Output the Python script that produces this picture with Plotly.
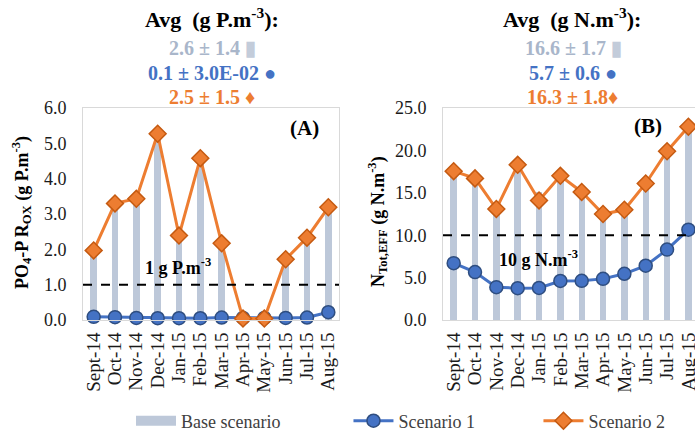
import plotly.graph_objects as go

# Monthly values, Sept 2014 - Aug 2015
months = ["Sept-14", "Oct-14", "Nov-14", "Dec-14", "Jan-15", "Feb-15",
          "Mar-15", "Apr-15", "May-15", "Jun-15", "Jul-15", "Aug-15"]

# Panel A: PO4-P R_OX (g P.m-3)
p_base = [2.05, 3.35, 3.48, 5.3, 2.45, 4.62, 2.22, 0.05, 0.05, 1.78, 2.38, 3.25]
p_s1 = [0.09, 0.08, 0.06, 0.05, 0.05, 0.05, 0.07, 0.06, 0.06, 0.06, 0.07, 0.22]
p_s2 = [1.97, 3.30, 3.43, 5.27, 2.39, 4.58, 2.17, 0.04, 0.04, 1.72, 2.33, 3.19]

# Panel B: N_Tot,EFF (g N.m-3)
n_base = [17.6, 16.8, 13.5, 18.3, 15.1, 17.1, 15.4, 12.9, 13.4, 16.2, 19.9, 22.9]
n_s1 = [6.7, 5.65, 3.87, 3.75, 3.78, 4.6, 4.62, 4.85, 5.45, 6.4, 8.3, 10.65]
n_s2 = [17.55, 16.7, 13.1, 18.3, 14.1, 17.0, 15.1, 12.5, 13.0, 16.1, 19.9, 22.8]

p_limit = 1.0
n_limit = 10.0

W, H = 695, 434
FONT = "Liberation Serif"
BAR = "#BDC8D9"
BLUE = "#4472C4"
BLUE_EDGE = "#2F4E80"
ORANGE = "#ED7D31"
ORANGE_EDGE = "#C55A11"
GREY_TXT = "#A9B6CA"
NBSP = "\u00a0"


def px_x(v):
    return v / W


def px_y(v):
    return 1 - v / H


fig = go.Figure()

panels = [
    ("x", "y", p_base, p_s1, p_s2),
    ("x2", "y2", n_base, n_s1, n_s2),
]
for i, (xa, ya, base, s1, s2) in enumerate(panels):
    fig.add_trace(go.Bar(x=months, y=base, xaxis=xa, yaxis=ya, width=0.3,
                         marker=dict(color=BAR, line=dict(width=0)),
                         showlegend=False, cliponaxis=False))
    fig.add_trace(go.Scatter(x=months, y=s1, xaxis=xa, yaxis=ya, mode="lines+markers",
                             line=dict(color=BLUE, width=3),
                             marker=dict(symbol="circle", size=13, color=BLUE,
                                         line=dict(color=BLUE_EDGE, width=1.5)),
                             name="Scenario 1" + NBSP * 13, showlegend=(i == 0),
                             cliponaxis=False, legendrank=2))
    fig.add_trace(go.Scatter(x=months, y=s2, xaxis=xa, yaxis=ya, mode="lines+markers",
                             line=dict(color=ORANGE, width=3),
                             marker=dict(symbol="diamond", size=13, color=ORANGE,
                                         line=dict(color=ORANGE_EDGE, width=1.5)),
                             name="Scenario 2", showlegend=(i == 0),
                             cliponaxis=False, legendrank=3))

# legend entry for the bars, drawn as a wide grey swatch
fig.add_trace(go.Scatter(x=[None], y=[None], mode="lines", name="Base scenario" + NBSP * 14,
                         line=dict(color=BAR, width=10), legendrank=1))

ydom = [px_y(320), px_y(108)]
axis_common = dict(showline=True, mirror=True, linecolor="#D9D9D9", linewidth=1,
                   showgrid=False, zeroline=False, ticks="")
xaxis_common = dict(axis_common, tickmode="linear", dtick=1, tick0=0, tickangle=-90,
                    ticklabelstandoff=4,
                    tickfont=dict(family=FONT, size=19, color="#1a1a1a"))
yaxis_common = dict(axis_common, tickformat=".1f", ticklabelstandoff=12,
                    tickfont=dict(family=FONT, size=18, color="#1a1a1a"))

fig.update_layout(
    width=W, height=H,
    margin=dict(l=0, r=0, t=0, b=0, autoexpand=False),
    paper_bgcolor="white", plot_bgcolor="white",
    bargap=0,
    xaxis=dict(domain=[px_x(83), px_x(339)], anchor="y", range=[-0.5, 11.5], **xaxis_common),
    yaxis=dict(domain=ydom, anchor="x", range=[0, 6], dtick=1, **yaxis_common),
    xaxis2=dict(domain=[px_x(443), 1.0], anchor="y2", range=[-0.5, 11.31], **xaxis_common),
    yaxis2=dict(domain=ydom, anchor="x2", range=[0, 25], dtick=5, **yaxis_common),
    legend=dict(orientation="h", x=px_x(131), xanchor="left", y=px_y(421),
                yanchor="middle", font=dict(family=FONT, size=18, color="#404040"),
                itemwidth=40, traceorder="normal", bgcolor="rgba(0,0,0,0)"),
    font=dict(family=FONT),
)

# threshold lines
fig.add_shape(type="line", xref="x domain", yref="y", x0=0, x1=1, y0=p_limit, y1=p_limit,
              line=dict(color="black", width=2, dash="dash"))
fig.add_shape(type="line", xref="x2 domain", yref="y2", x0=0, x1=1, y0=n_limit, y1=n_limit,
              line=dict(color="black", width=2, dash="dash"))

ann = []


def text(x, y, s, size, color="black", bold=True):
    ann.append(dict(x=px_x(x), y=px_y(y), xref="paper", yref="paper",
                    text=f"<b>{s}</b>" if bold else s,
                    showarrow=False, xanchor="center", yanchor="middle",
                    font=dict(family=FONT, size=size, color=color)))


# header blocks
text(212, 18, "Avg  (g P.m<sup>-3</sup>):", 22)
text(212, 48, "2.6 ± 1.4 <span style='color:#C3CCDA'>▮</span>", 20, GREY_TXT)
text(212, 73, "0.1 ± 3.0E-02 ●", 20, BLUE)
text(212, 97, "2.5 ± 1.5 ♦", 20, ORANGE)

text(572, 18, "Avg  (g N.m<sup>-3</sup>):", 22)
text(573, 48, "16.6 ± 1.7 <span style='color:#C3CCDA'>▮</span>", 20, GREY_TXT)
text(573, 73, "5.7 ± 0.6 ●", 20, BLUE)
text(572, 97, "16.3 ± 1.8♦", 20, ORANGE)

# panel tags and threshold labels
text(304, 128, "(A)", 21)
text(648, 126, "(B)", 21)
text(178, 266, "1 g P.m<sup>-3</sup>", 18)
text(538, 258, "10 g N.m<sup>-3</sup>", 18)

# axis titles
ann.append(dict(x=px_x(21), y=px_y(213), xref="paper", yref="paper",
                xanchor="center", yanchor="middle",
                text="<b>PO<sub>4</sub>-P R<sub>OX</sub> (g P.m<sup>-3</sup>)</b>",
                textangle=-90, showarrow=False, font=dict(family=FONT, size=18, color="black")))
ann.append(dict(x=px_x(377), y=px_y(222), xref="paper", yref="paper",
                xanchor="center", yanchor="middle",
                text="<b>N<sub>Tot,EFF</sub> (g N.m<sup>-3</sup>)</b>",
                textangle=-90, showarrow=False, font=dict(family=FONT, size=18, color="black")))

fig.update_layout(annotations=ann)

fig.write_html("out.html")
